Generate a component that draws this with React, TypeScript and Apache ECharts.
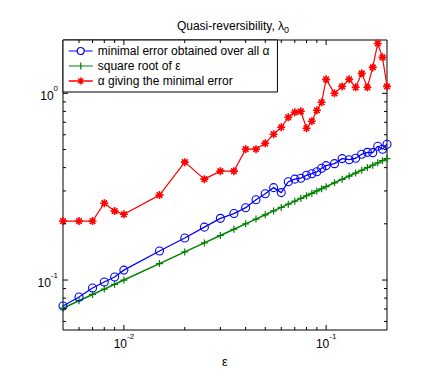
import React, { useEffect, useRef } from 'react';
import * as echarts from 'echarts';

// epsilon values (x)
const epsilon = [
  0.005, 0.006, 0.007, 0.008, 0.009, 0.01,
  0.015, 0.02, 0.025, 0.03, 0.035, 0.04, 0.045, 0.05, 0.055, 0.06, 0.065, 0.07, 0.075, 0.08, 0.085, 0.09, 0.095, 0.1,
  0.11, 0.12, 0.13, 0.14, 0.15, 0.16, 0.17, 0.18, 0.19, 0.2,
];
// minimal error obtained over all alpha (blue)
const minError = [
  0.0726, 0.0811, 0.0906, 0.0976, 0.1038, 0.113,
  0.143, 0.168, 0.192, 0.214, 0.227, 0.244, 0.269, 0.29, 0.3125, 0.294, 0.336, 0.347, 0.351, 0.364, 0.371, 0.38, 0.397, 0.41,
  0.42, 0.447, 0.441, 0.449, 0.472, 0.483, 0.481, 0.521, 0.502, 0.534,
];
// square root of epsilon (green)
const sqrtEps = [
  0.0707, 0.0775, 0.0837, 0.0894, 0.0949, 0.1,
  0.1225, 0.1414, 0.1581, 0.1732, 0.1871, 0.2, 0.2121, 0.2236, 0.2345, 0.2449, 0.255, 0.2646, 0.2739, 0.2828, 0.2915, 0.3, 0.3082, 0.3162,
  0.3317, 0.3464, 0.3606, 0.3742, 0.3873, 0.4, 0.4123, 0.4243, 0.4359, 0.4472,
];
// alpha giving the minimal error (red)
const bestAlpha = [
  0.207, 0.207, 0.207, 0.258, 0.234, 0.225,
  0.285, 0.428, 0.347, 0.383, 0.383, 0.502, 0.502, 0.54, 0.604, 0.658, 0.744, 0.791, 0.801, 0.65, 0.709, 0.811, 0.895, 1.188,
  1.0, 1.089, 1.188, 1.077, 1.279, 1.077, 1.377, 1.85, 1.558, 1.089,
];

const seriesNames = [
  'minimal error obtained over all α',
  'square root of ε',
  'α giving the minimal error',
];
const seriesColors = ['#0000ff', '#008000', '#ff0000'];

const xMajorTicks = [0.01, 0.1];
const xMinorTicks = [0.006, 0.007, 0.008, 0.009, 0.02, 0.03, 0.04, 0.05, 0.06, 0.07, 0.08, 0.09];
const yMajorTicks = [0.1, 1];
const yMinorTicks = [0.06, 0.07, 0.08, 0.09, 0.2, 0.3, 0.4, 0.5, 0.6, 0.7, 0.8, 0.9];

const X_MIN = 0.005;
const X_MAX = 0.2;
const Y_MIN = 0.054;
const Y_MAX = 1.93;

const FONT = '"Liberation Sans", Arial, Helvetica, sans-serif';

const CIRCLE = 'path://M0,5A5,5,0,1,1,10,5A5,5,0,1,1,0,5Z';
const PLUS = 'path://M0,5L10,5M5,0L5,10';
const STAR = 'path://M0,5L10,5M5,0L5,10M1.5,1.5L8.5,8.5M1.5,8.5L8.5,1.5';

// legend icons: line with the marker in its middle (24 x 10 box)
const legendIcons = [
  'path://M0,5L8.5,5M15.5,5L24,5M8.5,5A3.5,3.5,0,1,1,15.5,5A3.5,3.5,0,1,1,8.5,5Z',
  'path://M0,5L24,5M12,1.5L12,8.5',
  'path://M0,5L24,5M12,1.5L12,8.5M9.5,2.5L14.5,7.5M9.5,7.5L14.5,2.5',
];

function powLabel(value: number) {
  const l = Math.log10(value);
  const r = Math.round(l);
  if (Math.abs(l - r) < 1e-6) return `{b|10}{s|${r}}`;
  return '';
}

const labelRich = {
  b: { fontSize: 12, fontFamily: FONT, color: '#000', verticalAlign: 'bottom', lineHeight: 18 },
  s: { fontSize: 8, fontFamily: FONT, color: '#000', verticalAlign: 'top', lineHeight: 18 },
};

export default function App() {
  const ref = useRef<HTMLDivElement>(null);
  useEffect(() => {
    if (!ref.current) return;
    const chart = echarts.init(ref.current, undefined, { renderer: 'svg' });

    const tickData: number[][] = [];
    xMajorTicks.forEach((v) => tickData.push([v, Y_MIN, 0, 5]));
    xMinorTicks.forEach((v) => tickData.push([v, Y_MIN, 0, 3]));
    yMajorTicks.forEach((v) => tickData.push([X_MIN, v, 1, 5]));
    yMinorTicks.forEach((v) => tickData.push([X_MIN, v, 1, 3]));

    const values = [minError, sqrtEps, bestAlpha];
    const symbols = [CIRCLE, PLUS, STAR];
    const lineWidths = [1.3, 1.5, 1.2];
    const symbolSizes = [8, 7, 8];
    const borderWidths = [1.1, 1.2, 1.6];

    const lineSeries = seriesNames.map((name, k) => ({
      name,
      type: 'line',
      data: epsilon.map((e, i) => [e, values[k][i]]),
      symbol: symbols[k],
      symbolSize: symbolSizes[k],
      lineStyle: { color: seriesColors[k], width: lineWidths[k] },
      itemStyle: { color: 'transparent', borderColor: seriesColors[k], borderWidth: borderWidths[k] },
      z: k === 0 ? 3 : 2,
    }));

    const option: any = {
      animation: false,
      title: {
        text: 'Quasi-reversibility, λ{sub|0}',
        left: 228,
        top: 12,
        textAlign: 'center',
        textStyle: {
          fontSize: 12,
          fontWeight: 'normal',
          fontFamily: FONT,
          color: '#000',
          rich: {
            sub: { fontSize: 9, fontFamily: FONT, color: '#000', padding: [8, 0, 0, 0] },
          },
        },
      },
      legend: {
        orient: 'vertical',
        left: 63,
        top: 40,
        data: seriesNames.map((name, k) => ({
          name,
          icon: legendIcons[k],
          itemStyle: { color: 'transparent', borderColor: seriesColors[k], borderWidth: k === 2 ? 1.5 : 1.2 },
        })),
        backgroundColor: '#fff',
        borderColor: '#000',
        borderWidth: 1,
        padding: [5, 8, 5, 5],
        itemGap: 3,
        itemWidth: 24,
        itemHeight: 10,
        itemTextGap: 6,
        textStyle: { fontSize: 12, fontFamily: FONT, color: '#000' },
      },
      grid: {
        left: 63,
        right: 49,
        top: 40,
        bottom: 52,
        show: true,
        borderColor: '#000',
        borderWidth: 1,
        containLabel: false,
      },
      xAxis: {
        type: 'log',
        logBase: 10,
        min: X_MIN,
        max: X_MAX,
        name: 'ε',
        nameLocation: 'middle',
        nameGap: 15,
        nameTextStyle: { fontSize: 13, fontFamily: FONT, color: '#000' },
        axisLine: { show: false },
        axisTick: { show: false },
        splitLine: { show: false },
        axisLabel: { margin: 2, formatter: powLabel, rich: labelRich },
      },
      yAxis: {
        type: 'log',
        logBase: 10,
        min: Y_MIN,
        max: Y_MAX,
        axisLine: { show: false },
        axisTick: { show: false },
        splitLine: { show: false },
        axisLabel: { margin: 5, formatter: powLabel, rich: labelRich },
      },
      series: [
        ...lineSeries,
        {
          type: 'custom',
          name: 'ticks',
          data: tickData,
          encode: { x: 0, y: 1 },
          silent: true,
          z: 5,
          renderItem: (params: any, api: any) => {
            const dir = api.value(2);
            const len = api.value(3);
            const style = { stroke: '#000', lineWidth: 1 };
            if (dir === 0) {
              const v = api.value(0);
              const pb = api.coord([v, Y_MIN]);
              const pt = api.coord([v, Y_MAX]);
              return {
                type: 'group',
                children: [
                  { type: 'line', shape: { x1: pb[0], y1: pb[1], x2: pb[0], y2: pb[1] - len }, style },
                  { type: 'line', shape: { x1: pt[0], y1: pt[1], x2: pt[0], y2: pt[1] + len }, style },
                ],
              };
            }
            const v = api.value(1);
            const pl = api.coord([X_MIN, v]);
            const pr = api.coord([X_MAX, v]);
            return {
              type: 'group',
              children: [
                { type: 'line', shape: { x1: pl[0], y1: pl[1], x2: pl[0] + len, y2: pl[1] }, style },
                { type: 'line', shape: { x1: pr[0], y1: pr[1], x2: pr[0] - len, y2: pr[1] }, style },
              ],
            };
          },
        },
      ],
    };
    chart.setOption(option);
    return () => chart.dispose();
  }, []);
  return (
    <div
      ref={ref}
      style={{ position: 'fixed', left: 0, top: 0, width: 436, height: 382, background: '#fff' }}
    />
  );
}
